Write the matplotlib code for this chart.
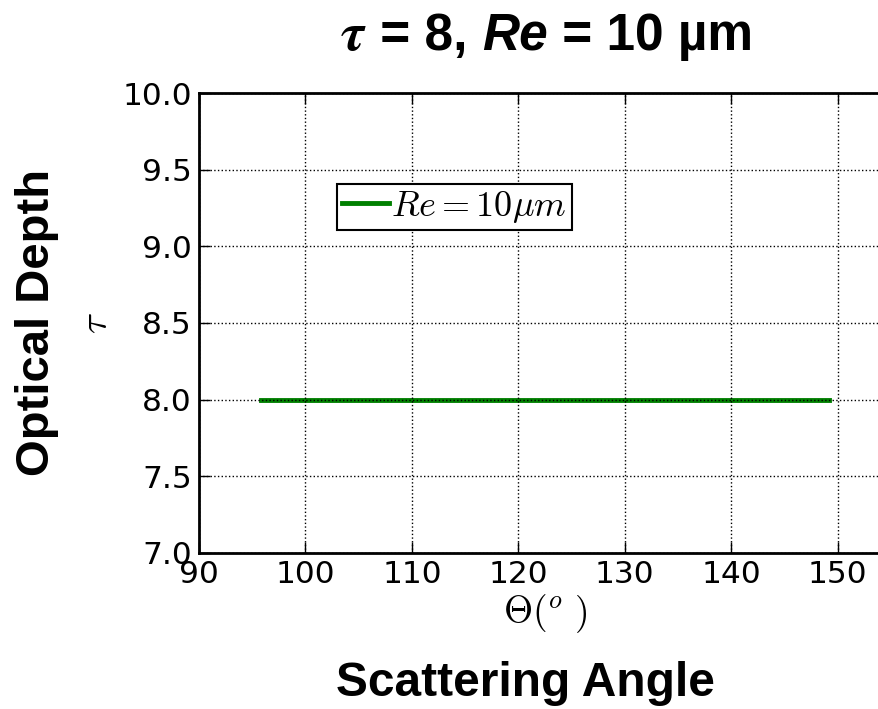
import numpy as np
import matplotlib
matplotlib.use("Agg")
import matplotlib.pyplot as plt
from matplotlib.offsetbox import TextArea, HPacker, AnchoredOffsetbox

# scattering angle (deg) and retrieved optical depth
theta = [95.8, 100, 105, 110, 115, 120, 125, 130, 135, 140, 145, 149.2]
tau = [8.0, 8.0, 8.0, 8.0, 8.0, 8.0, 8.0, 8.0, 8.0, 8.0, 8.0, 8.0]
series_label = r"$Re=10\mu m$"

xticks = [90, 100, 110, 120, 130, 140, 150]
yticks = [7.0, 7.5, 8.0, 8.5, 9.0, 9.5, 10.0]

plt.rcParams["mathtext.fontset"] = "cm"
plt.rcParams["font.family"] = "DejaVu Sans"

fig = plt.figure(figsize=(8.79, 7.09), dpi=100, facecolor="white")
ax = fig.add_axes([199 / 879, 1 - 553 / 709, 692 / 879, 460 / 709])

ax.plot(theta, tau, color="green", lw=3.5, label=series_label)

ax.set_xlim(90, 155)
ax.set_ylim(7.0, 10.0)
ax.set_xticks(xticks)
ax.set_yticks(yticks)
ax.set_yticklabels([f"{v:.1f}" for v in yticks])
ax.tick_params(direction="in", length=8, width=1, labelsize=22.5, top=True, right=True, pad=5)
for s in ax.spines.values():
    s.set_linewidth(2)
ax.set_axisbelow(False)
ax.grid(True, color="black", linestyle=":", linewidth=1)

ax.set_xlabel(r"$\Theta(^o\ )$", fontsize=27, labelpad=2)
ax.set_ylabel(r"$\tau$", fontsize=28, labelpad=5)

leg = ax.legend(loc="upper left", bbox_to_anchor=(0.199, 0.803), fontsize=26,
                handlelength=1.3, handletextpad=0.05, borderpad=0.15,
                borderaxespad=0, fancybox=False, framealpha=1)
leg.get_frame().set_edgecolor("black")
leg.get_frame().set_linewidth(1.5)

# title built from pieces: math tau, bold text, bold-italic Re
tfont = dict(fontsize=37, fontweight="bold", family="Liberation Sans")
parts = [
    TextArea(r"$\boldsymbol{\tau}$", textprops=dict(fontsize=39)),
    TextArea(" = 8, ", textprops=tfont),
    TextArea("Re", textprops=dict(tfont, style="italic")),
    TextArea(" = 10 µm", textprops=tfont),
]
title = AnchoredOffsetbox(loc="center", child=HPacker(children=parts, align="baseline", pad=0, sep=0),
                          frameon=False, bbox_to_anchor=(546 / 879, 1 - 35 / 709),
                          bbox_transform=fig.transFigure, pad=0, borderpad=0)
fig.add_artist(title)

fig.text(525 / 879, 1 - 683 / 709, "Scattering Angle", ha="center", va="center",
         fontsize=34.5, fontweight="bold", family="Liberation Sans")
fig.text(37 / 879, 1 - 322 / 709, "Optical Depth", ha="center", va="center", rotation=90,
         fontsize=34, fontweight="bold", family="Liberation Sans")

fig.savefig("out.png", dpi=100, facecolor="white")
